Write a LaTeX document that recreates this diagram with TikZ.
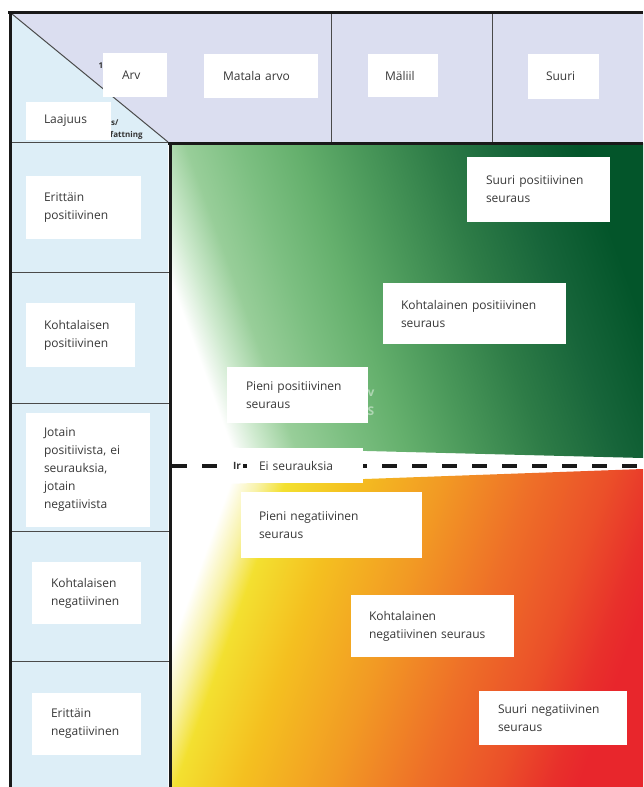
\documentclass[tikz,border=0pt]{standalone}
\usepackage{fontspec}
\setmainfont{Open Sans}
\usetikzlibrary{positioning}
\definecolor{headfill}{HTML}{DBDEF0}
\definecolor{sidefill}{HTML}{DDEEF7}
\definecolor{gridgray}{HTML}{4A4A4A}
\definecolor{inkgray}{HTML}{383838}
\definecolor{gA}{HTML}{EEF7EE}
\definecolor{gB}{HTML}{CFEACF}
\definecolor{gC}{HTML}{98CE99}
\definecolor{gD}{HTML}{7CBF81}
\definecolor{gE}{HTML}{65B06D}
\definecolor{gF}{HTML}{4A985A}
\definecolor{gG}{HTML}{2E7C47}
\definecolor{gH}{HTML}{17653A}
\definecolor{gI}{HTML}{03552A}
\definecolor{oA}{HTML}{F8F2A8}
\definecolor{oB}{HTML}{F3E030}
\definecolor{oC}{HTML}{F4C020}
\definecolor{oD}{HTML}{F29A24}
\definecolor{oE}{HTML}{EE6E28}
\definecolor{oF}{HTML}{EB5029}
\definecolor{oG}{HTML}{E8302B}
\definecolor{oH}{HTML}{E8262C}
\pgfdeclarehorizontalshading{greenfade}{100bp}{color(0bp)=(white); color(25bp)=(white); color(26bp)=(gA); color(28bp)=(gB); color(32bp)=(gC); color(38bp)=(gD); color(44bp)=(gE); color(51bp)=(gF); color(59bp)=(gG); color(67bp)=(gH); color(75bp)=(gI); color(100bp)=(gI)}
\pgfdeclarehorizontalshading{redfade}{100bp}{color(0bp)=(white); color(25bp)=(white); color(28bp)=(oA); color(31bp)=(oB); color(38bp)=(oC); color(48bp)=(oD); color(58bp)=(oE); color(66bp)=(oF); color(72bp)=(oG); color(75bp)=(oH); color(100bp)=(oH)}
\tikzset{
  cell/.style={fill=white, inner ysep=0pt, align=left, text=inkgray,
    font=\fontsize{12}{18}\selectfont},
  frame/.style={line width=3pt, black!90},
  rule/.style={line width=1pt, gridgray},
  scrap/.style={inner sep=0pt, text=black!80, font=\bfseries\fontsize{8}{9}\selectfont}
}
\begin{document}
\begin{tikzpicture}[x=1pt,y=-1pt]
\useasboundingbox[fill=white] (0,0) rectangle (643,787);
\fill[headfill] (10,12) rectangle (643,142);
\fill[sidefill] (10,12) -- (168,142) -- (168,787) -- (10,787) -- cycle;
\draw[rule] (12,14) -- (168,142);
\draw[rule] (331,12) -- (331,142) (492,12) -- (492,142);
\foreach \y in {142,272,403,531,661}
  \draw[rule] (10,\y) -- (170,\y);
\shade[shading=greenfade, shading angle=20] (170,143) -- (643,143) -- (643,458) -- (170,446) -- cycle;
\shade[shading=redfade, shading angle=-20] (170,486) -- (643,469) -- (643,787) -- (170,787) -- cycle;
\draw[line width=4pt, black!90, dash pattern=on 15pt off 15pt] (172,466) -- (643,466);
\draw[frame] (168,143) -- (643,143) (170,143) -- (170,787);
\draw[frame] (8,12) -- (643,12) (10,12) -- (10,787);

\node[scrap] (one) at (101,66) {1};
\node[scrap, anchor=west] (slash) at (111,123) {s/};
\node[scrap, anchor=west] (fatt) at (110,135) {fattning};
\node[inner sep=0pt, text=white, opacity=0.45, font=\bfseries\fontsize{12}{14}\selectfont] (vee) at (371,393) {v};
\node[inner sep=0pt, text=white, opacity=0.45, font=\bfseries\fontsize{12}{14}\selectfont] (ess) at (371,411) {S};

\node[cell, minimum width=64pt, minimum height=44pt, inner xsep=19pt, text width=26pt] (arv) at (135,75) {Arv};
\node[cell, minimum width=85pt, minimum height=38pt, inner xsep=18pt, text width=49pt] (laaj) at (68.5,121) {Laajuus};
\node[cell, minimum width=114pt, minimum height=44pt, inner xsep=19pt, text width=76pt] (matala) at (261,76) {Matala arvo};
\node[cell, minimum width=70pt, minimum height=43pt, inner xsep=17pt, text width=36pt] (maliil) at (403,75.5) {Mäliil};
\node[cell, minimum width=71pt, minimum height=45pt, inner xsep=18pt, text width=35pt] (suuri) at (563.5,76.5) {Suuri};

\node[cell, minimum width=115pt, minimum height=63pt, inner xsep=18pt, text width=79pt] (erpos) at (83.5,207.5) {Erittäin\\positiivinen};
\node[cell, minimum width=109pt, minimum height=64pt, inner xsep=18pt, text width=73pt] (kopos) at (80.5,335) {Kohtalaisen\\positiivinen};
\node[cell, minimum width=124pt, minimum height=114pt, inner xsep=18pt, text width=88pt] (jotain) at (88,470) {Jotain\\positiivista, ei\\seurauksia,\\jotain\\negatiivista};
\node[cell, minimum width=109pt, minimum height=62pt, inner xsep=19pt, text width=71pt] (koneg) at (86.5,593) {Kohtalaisen\\negatiivinen};
\node[cell, minimum width=109pt, minimum height=62pt, inner xsep=19pt, text width=71pt] (erneg) at (86.5,724) {Erittäin\\negatiivinen};

\node[cell, minimum width=143pt, minimum height=65pt, inner xsep=19pt, text width=105pt] (suuripos) at (538.5,189.5) {Suuri positiivinen\\seuraus};
\node[cell, minimum width=183pt, minimum height=61pt, inner xsep=18pt, text width=147pt] (kohtpos) at (474.5,313.5) {Kohtalainen positiivinen\\seuraus};
\node[cell, minimum width=141pt, minimum height=56pt, inner xsep=19pt, text width=103pt] (pienipos) at (297.5,395) {Pieni positiivinen\\seuraus};
\node[scrap, fill=white, inner sep=2pt, font=\bfseries\fontsize{10}{11}\selectfont] (ir) at (237,466) {Ir};
\node[cell, minimum width=116pt, minimum height=35pt, inner xsep=12pt, text width=92pt] (eiseur) at (305,465.5) {Ei seurauksia};
\node[cell, minimum width=181pt, minimum height=66pt, inner xsep=18pt, text width=145pt] (pienineg) at (331.5,525) {Pieni negatiivinen\\seuraus};
\node[cell, minimum width=163pt, minimum height=62pt, inner xsep=18pt, text width=127pt] (kohtneg) at (432.5,626) {Kohtalainen\\negatiivinen seuraus};
\node[cell, minimum width=148pt, minimum height=54pt, inner xsep=19pt, text width=110pt] (suurineg) at (553,718) {Suuri negatiivinen\\seuraus};
\end{tikzpicture}
\end{document}
